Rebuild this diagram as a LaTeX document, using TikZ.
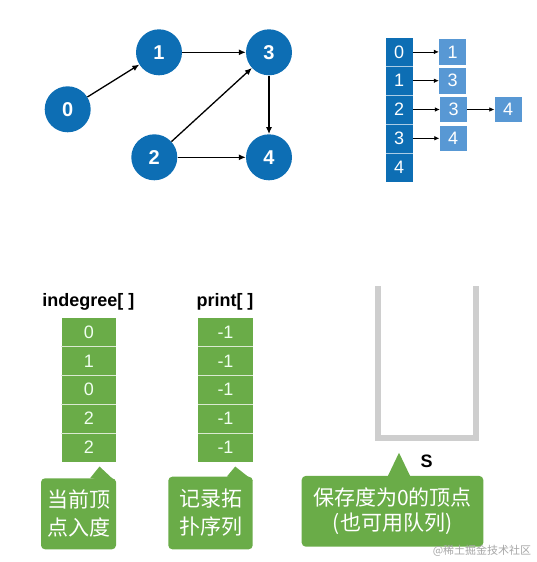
\documentclass[tikz,border=0pt]{standalone}
\usepackage{fontspec}
\setmainfont{Liberation Sans}
\newfontfamily\cjk{Noto Sans CJK SC}
\usetikzlibrary{arrows.meta, positioning}

\definecolor{nodeblue}{RGB}{13,110,180}
\definecolor{listblue}{RGB}{88,152,212}
\definecolor{cellgreen}{RGB}{106,172,72}
\definecolor{stackgray}{RGB}{206,206,206}

\begin{document}
\begin{tikzpicture}[x=1pt, y=-1pt,
  vertex/.style={circle, fill=nodeblue, text=white, minimum size=46pt, inner sep=0pt, font=\fontsize{20}{20}\selectfont\bfseries},
  headcell/.style={fill=nodeblue, text=white, minimum width=27pt, minimum height=28.8pt, inner sep=0pt, font=\fontsize{18}{18}\selectfont},
  listcell/.style={fill=listblue, text=white, minimum width=27pt, minimum height=25.6pt, inner sep=0pt, font=\fontsize{18}{18}\selectfont},
  greencell/.style={fill=cellgreen, text=green!6!white, minimum width=54.3pt, minimum height=28.8pt, inner sep=0pt, font=\fontsize{18}{18}\selectfont},
  cellsep/.style={line width=0.6pt},
  callout/.style={fill=cellgreen, text=white, rounded corners=4pt, inner sep=0pt, align=center},
  arrlabel/.style={font=\fontsize{18}{18}\selectfont\bfseries},
  graphedge/.style={line width=1.3pt, -{Latex[length=7pt, width=6pt]}},
  listptr/.style={line width=0.6pt, -{Latex[length=5pt, width=4.5pt]}},
]
\useasboundingbox (0,0) rectangle (537,562);

%% ============ GRAPH ============
\node[vertex] (v0) at (67.7,109.3) {0};
\node[vertex] (v1) at (159,52.3)   {1};
\node[vertex] (v3) at (269,52.3)   {3};
\node[vertex] (v2) at (154.3,157.3) {2};
\node[vertex] (v4) at (269,157.3)  {4};

\draw[graphedge] (v0) -- (v1);
\draw[graphedge] (v1) -- (v3);
\draw[graphedge] (v2) -- (v3);
\draw[graphedge] (v2) -- (v4);
\draw[graphedge] (v3) -- (v4);

%% ============ ADJACENCY LIST ============
\foreach \v [count=\i from 0] in {0,1,2,3,4}
  \node[headcell] (h\i) at (399.2,51.9+28.8*\i) {\v};
\foreach \i in {0,1,2,3}
  \draw[cellsep, white!65!nodeblue] (h\i.south west) -- (h\i.south east);

\node[listcell] (l0) at (452.5,51.9)  {1};
\node[listcell] (l1) at (452.5,80.7)  {3};
\node[listcell] (l2) at (453.5,109.5) {3};
\node[listcell] (l3) at (453,138.3)   {4};
\node[listcell] (l2b) at (508,109.5)  {4};

\draw[listptr] (h0.east) -- (l0.west);
\draw[listptr] (h1.east) -- (l1.west);
\draw[listptr] (h2.east) -- (l2.west);
\draw[listptr] (h3.east) -- (l3.west);
\draw[listptr] (l2.east) -- (l2b.west);

%% ============ ARRAYS ============
\node[arrlabel] (deglabel) at (88.3,301.7) {indegree[ ]};
\node[arrlabel] (printlabel) at (225,301.7) {print[ ]};

\foreach \v [count=\i from 0] in {0,1,0,2,2}
  \node[greencell] (d\i) at (88.8,332.1+28.8*\i) {\v};
\foreach \i in {0,...,4}
  \node[greencell] (p\i) at (225.5,332.1+28.8*\i) {-1};
\foreach \i in {0,1,2,3}{
  \draw[cellsep, white!75!cellgreen] (d\i.south west) -- (d\i.south east);
  \draw[cellsep, white!75!cellgreen] (p\i.south west) -- (p\i.south east);
}

%% ============ STACK ============
\draw[stackgray, line width=5.7pt] (377.9,286) -- (377.9,437.9) -- (476,437.9) -- (476,286);
\node[arrlabel] (stacklabel) at (426.7,461.7) {S};

%% ============ CALLOUTS ============
\node[callout, minimum width=75pt, minimum height=71pt, font=\cjk\fontsize{21}{28}\selectfont]
  (degnote) at (78.5,513.8) {当前顶\\点入度};
\fill[cellgreen] ([xshift=-26pt]degnote.north east) -- ([xshift=-16.7pt, yshift=11.6pt]degnote.north east)
  -- ([yshift=-4pt]degnote.north east) -- cycle;

\node[callout, minimum width=84.4pt, minimum height=72.6pt, font=\cjk\fontsize{21}{28}\selectfont]
  (printnote) at (210.5,513) {记录拓\\扑序列};
\fill[cellgreen] ([xshift=-26pt]printnote.north east) -- ([xshift=-17.7pt, yshift=10pt]printnote.north east)
  -- ([yshift=-4pt]printnote.north east) -- cycle;

\node[callout, minimum width=181.6pt, minimum height=70.7pt, font=\cjk\fontsize{21}{25}\selectfont]
  (stacknote) at (392.5,511.3) {保存度为0的顶点\\(也可用队列)};
\fill[cellgreen] ([xshift=-4.5pt]stacknote.north) -- ([xshift=6.5pt, yshift=23pt]stacknote.north)
  -- ([xshift=17.5pt]stacknote.north) -- cycle;

% watermark
\node[text=gray!70, font=\cjk\fontsize{11}{11}\selectfont] (mark) at (482,551) {@稀土掘金技术社区};

\end{tikzpicture}
\end{document}
